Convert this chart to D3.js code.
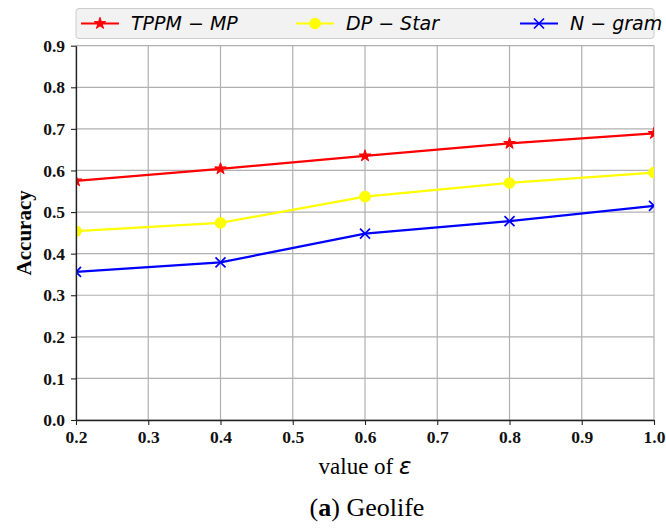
<!DOCTYPE html>
<html>
<head>
<meta charset="utf-8">
<script src="https://cdn.jsdelivr.net/npm/d3@7"></script>
<style>
body { margin: 0; background: #fff; }
</style>
</head>
<body>
<svg id="chart" width="666" height="530"></svg>
<script>
// epsilon values and accuracy for each method
var epsilons = [0.2, 0.4, 0.6, 0.8, 1.0];
var tppm = [0.575, 0.604, 0.635, 0.665, 0.689];
var dpstar = [0.454, 0.474, 0.537, 0.570, 0.595];
var ngram = [0.356, 0.379, 0.448, 0.478, 0.515];
var seriesNames = ["TPPM \u2212 MP", "DP \u2212 Star", "N \u2212 gram"];
var xTicks = [0.2, 0.3, 0.4, 0.5, 0.6, 0.7, 0.8, 0.9, 1.0];
var yTicks = [0, 0.1, 0.2, 0.3, 0.4, 0.5, 0.6, 0.7, 0.8, 0.9];

var series = [
  {name: seriesNames[0], values: tppm, color: "#ff0000", marker: "star"},
  {name: seriesNames[1], values: dpstar, color: "#ffff00", marker: "circle"},
  {name: seriesNames[2], values: ngram, color: "#0000ff", marker: "x"}
];

var svg = d3.select("#chart");
var mLeft = 76, mRight = 654, mTop = 45.7, mBottom = 420;

var x = d3.scaleLinear().domain([0.2, 1.0]).range([mLeft, mRight]);
var y = d3.scaleLinear().domain([0, 0.9]).range([mBottom, mTop]);

svg.append("defs").append("clipPath").attr("id", "plotclip")
  .append("rect").attr("x", mLeft).attr("y", mTop)
  .attr("width", mRight - mLeft).attr("height", mBottom - mTop);

// grid
var grid = svg.append("g");
grid.selectAll(".vg").data(xTicks).enter().append("line")
  .attr("x1", d => x(d)).attr("x2", d => x(d))
  .attr("y1", mTop).attr("y2", mBottom)
  .attr("stroke", "#b0b0b0").attr("stroke-width", 1.2);
grid.selectAll(".hg").data(yTicks).enter().append("line")
  .attr("x1", mLeft).attr("x2", mRight)
  .attr("y1", d => y(d)).attr("y2", d => y(d))
  .attr("stroke", "#b0b0b0").attr("stroke-width", 1.2);

// lines
var line = d3.line().x((d, i) => x(epsilons[i])).y(d => y(d));

function drawMarker(g, type, color, cx, cy) {
  if (type === "star") {
    g.append("path")
      .attr("d", d3.symbol().type(d3.symbolStar).size(42)())
      .attr("transform", "translate(" + cx + "," + cy + ")")
      .attr("fill", color).attr("stroke", color).attr("stroke-width", 1);
  } else if (type === "circle") {
    g.append("circle").attr("cx", cx).attr("cy", cy).attr("r", 5.8).attr("fill", color);
  } else {
    var s = 5;
    g.append("path")
      .attr("d", "M" + (cx - s) + "," + (cy - s) + "L" + (cx + s) + "," + (cy + s) +
                 "M" + (cx - s) + "," + (cy + s) + "L" + (cx + s) + "," + (cy - s))
      .attr("stroke", color).attr("stroke-width", 1.7).attr("fill", "none");
  }
}

var plot = svg.append("g").attr("clip-path", "url(#plotclip)");
series.forEach(function(s) {
  plot.append("path").datum(s.values)
    .attr("d", line)
    .attr("fill", "none").attr("stroke", s.color).attr("stroke-width", 2.2);
  s.values.forEach(function(v, i) {
    drawMarker(plot, s.marker, s.color, x(epsilons[i]), y(v));
  });
});

// axes
var xAxis = svg.append("g")
  .attr("transform", "translate(0," + mBottom + ")")
  .call(d3.axisBottom(x).tickValues(xTicks).tickFormat(d3.format(".1f")).tickSize(5).tickSizeOuter(0));
var yAxis = svg.append("g")
  .attr("transform", "translate(" + mLeft + ",0)")
  .call(d3.axisLeft(y).tickValues(yTicks).tickFormat(d3.format(".1f")).tickSize(5).tickSizeOuter(0));

[xAxis, yAxis].forEach(function(a) {
  a.select(".domain").attr("stroke", "#222").attr("stroke-width", 1.3);
  a.selectAll(".tick line").attr("stroke", "#222").attr("stroke-width", 1.1);
  a.selectAll(".tick text")
    .attr("font-family", "Liberation Serif, serif")
    .attr("font-weight", "bold")
    .attr("font-size", 17.5)
    .attr("fill", "#111");
});
xAxis.selectAll(".tick text").attr("dy", "0.85em");
yAxis.selectAll(".tick text").attr("x", -11);

// legend
var legend = svg.append("g");
legend.append("rect")
  .attr("x", 76).attr("y", 8.5).attr("width", 578).attr("height", 30)
  .attr("rx", 3)
  .attr("fill", "#f2f2f2").attr("stroke", "#cccccc").attr("stroke-width", 1);
var legendX = [81, 296, 520];
series.forEach(function(s, i) {
  var lx = legendX[i], ly = 23.5;
  legend.append("line")
    .attr("x1", lx).attr("x2", lx + 38).attr("y1", ly).attr("y2", ly)
    .attr("stroke", s.color).attr("stroke-width", 2.2);
  drawMarker(legend, s.marker, s.color, lx + 19, ly);
  legend.append("text")
    .attr("x", lx + 50).attr("y", ly + 6.5)
    .attr("font-family", "DejaVu Sans, sans-serif")
    .attr("font-style", "italic")
    .attr("font-size", 19)
    .attr("fill", "#000")
    .text(s.name);
});

// axis titles
svg.append("text")
  .attr("transform", "translate(31," + ((mTop + mBottom) / 2) + ") rotate(-90)")
  .attr("text-anchor", "middle")
  .attr("font-family", "Liberation Serif, serif")
  .attr("font-weight", "bold")
  .attr("font-size", 21)
  .text("Accuracy");

var xt = svg.append("text")
  .attr("x", (mLeft + mRight) / 2).attr("y", 474)
  .attr("text-anchor", "middle")
  .attr("font-family", "Liberation Serif, serif")
  .attr("font-size", 23);
xt.append("tspan").text("value of ");
xt.append("tspan").attr("font-family", "DejaVu Sans, sans-serif").attr("font-style", "italic").text("\u03b5");

var cap = svg.append("text")
  .attr("x", 367).attr("y", 516)
  .attr("text-anchor", "middle")
  .attr("font-family", "Liberation Serif, serif")
  .attr("font-size", 26);
cap.append("tspan").text("(");
cap.append("tspan").attr("font-weight", "bold").text("a");
cap.append("tspan").text(") Geolife");
</script>
</body>
</html>
